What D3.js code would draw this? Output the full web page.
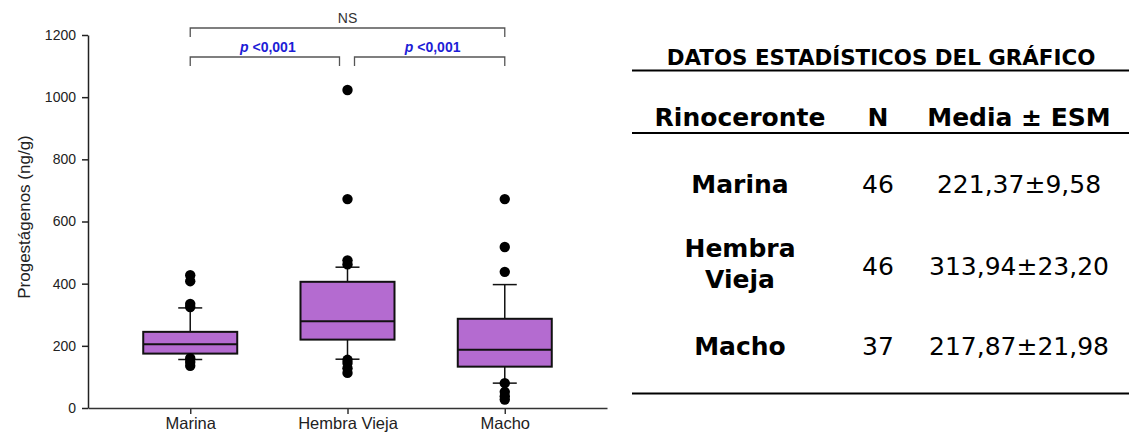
<!DOCTYPE html>
<html>
<head>
<meta charset="utf-8">
<script src="https://cdn.jsdelivr.net/npm/d3@7"></script>
<style>
  body { margin: 0; background: #fff; }
  svg { display: block; }
</style>
</head>
<body>
<svg id="chart" width="1129" height="432"></svg>
<script>
// boxplot data (ng/g)
const groups = ["Marina", "Hembra Vieja", "Macho"];
const q1 = [175, 220, 133];
const median = [205, 279, 187];
const q3 = [245, 406, 287];
const whiskLow = [156, 157, 80];
const whiskHigh = [322, 453, 397];
const outliers = [
  [427, 408, 335, 325, 160, 148, 136],
  [1023, 672, 475, 462, 155, 145, 128, 113],
  [672, 518, 438, 80, 52, 38, 27]
];
const yTicks = [0, 200, 400, 600, 800, 1000, 1200];

// comparisons shown above the boxes
const comparisons = [
  { from: "Marina", to: "Macho", label: "NS", level: 0 },
  { from: "Marina", to: "Hembra Vieja", label: "<0,001", level: 1 },
  { from: "Hembra Vieja", to: "Macho", label: "<0,001", level: 1 }
];

// stats table
const tableHeader = ["Rinoceronte", "N", "Media ± ESM"];
const rowLabels = [["Marina"], ["Hembra", "Vieja"], ["Macho"]];
const rowN = ["46", "46", "37"];
const rowMean = ["221,37±9,58", "313,94±23,20", "217,87±21,98"];

const svg = d3.select("#chart");
const boxFill = "#b46bd0";
const font = "'Liberation Sans', Arial, sans-serif";

const y = d3.scaleLinear().domain([0, 1200]).range([408, 35]);
const x = d3.scalePoint().domain(groups).range([88, 607]).padding(0.65);

// axes
const yAxis = svg.append("g")
  .attr("transform", "translate(88,0)")
  .call(d3.axisLeft(y).tickValues(yTicks).tickFormat(d3.format("d"))
    .tickSize(6).tickSizeOuter(0).tickPadding(6));
yAxis.selectAll("text").style("font", `14px ${font}`).attr("fill", "#222");
yAxis.selectAll("line, path").attr("stroke", "#222").attr("stroke-width", 1.5);

const xAxis = svg.append("g")
  .attr("transform", "translate(0,408)")
  .call(d3.axisBottom(x).tickSize(6).tickSizeOuter(0).tickPadding(3));
xAxis.selectAll("text").style("font", `16.5px ${font}`).attr("fill", "#222");
xAxis.selectAll("line, path").attr("stroke", "#333").attr("stroke-width", 1.5);

svg.append("text")
  .attr("transform", "translate(30,217) rotate(-90)")
  .attr("text-anchor", "middle")
  .style("font", `17px ${font}`)
  .attr("fill", "#222")
  .text("Progestágenos (ng/g)");

// boxes
const boxW = 94, capW = 24;
const box = svg.append("g").selectAll("g")
  .data(groups)
  .join("g")
  .attr("transform", d => `translate(${x(d)},0)`);

box.append("line")
  .attr("y1", (d, i) => y(whiskHigh[i])).attr("y2", (d, i) => y(whiskLow[i]))
  .attr("stroke", "#111").attr("stroke-width", 1.5);
box.append("line")
  .attr("x1", -capW / 2).attr("x2", capW / 2)
  .attr("y1", (d, i) => y(whiskHigh[i])).attr("y2", (d, i) => y(whiskHigh[i]))
  .attr("stroke", "#111").attr("stroke-width", 1.5);
box.append("line")
  .attr("x1", -capW / 2).attr("x2", capW / 2)
  .attr("y1", (d, i) => y(whiskLow[i])).attr("y2", (d, i) => y(whiskLow[i]))
  .attr("stroke", "#111").attr("stroke-width", 1.5);
box.append("rect")
  .attr("x", -boxW / 2).attr("width", boxW)
  .attr("y", (d, i) => y(q3[i]))
  .attr("height", (d, i) => y(q1[i]) - y(q3[i]))
  .attr("fill", boxFill).attr("stroke", "#111").attr("stroke-width", 2);
box.append("line")
  .attr("x1", -boxW / 2).attr("x2", boxW / 2)
  .attr("y1", (d, i) => y(median[i])).attr("y2", (d, i) => y(median[i]))
  .attr("stroke", "#111").attr("stroke-width", 2);
box.selectAll("circle")
  .data((d, i) => outliers[i])
  .join("circle")
  .attr("cy", v => y(v))
  .attr("r", 5.2)
  .attr("fill", "#000");

// significance brackets
const levelY = [28, 57];
const tickH = 9;
comparisons.forEach(c => {
  let x1 = x(c.from), x2 = x(c.to);
  if (c.level === 1) {
    // small gap where two brackets meet
    if (c.to === "Hembra Vieja") x2 -= 8;
    if (c.from === "Hembra Vieja") x1 += 7;
  }
  const by = levelY[c.level];
  svg.append("path")
    .attr("d", `M${x1},${by + tickH}V${by}H${x2}V${by + tickH}`)
    .attr("fill", "none").attr("stroke", "#555").attr("stroke-width", 1.3);
  const t = svg.append("text")
    .attr("x", (x1 + x2) / 2 + (c.level ? 3 : 0))
    .attr("y", by - 5)
    .attr("text-anchor", "middle")
    .style("font-family", font)
    .style("font-size", "14px");
  if (c.level === 0) {
    t.attr("fill", "#333").text(c.label);
  } else {
    t.attr("fill", "#1d1dd6").style("font-weight", "bold");
    t.append("tspan").style("font-style", "italic").text("p");
    t.append("tspan").text(" " + c.label);
  }
});

// table on the right
const tfont = "'DejaVu Sans', Verdana, sans-serif";
const colX = [740, 878, 1019];

svg.append("text")
  .attr("x", 881).attr("y", 65)
  .attr("text-anchor", "middle")
  .style("font", `bold 21.4px ${tfont}`)
  .text("DATOS ESTADÍSTICOS DEL GRÁFICO");

svg.append("line").attr("x1", 632).attr("x2", 1129).attr("y1", 70.5).attr("y2", 70.5)
  .attr("stroke", "#000").attr("stroke-width", 2);

svg.append("g").selectAll("text")
  .data(tableHeader)
  .join("text")
  .attr("x", (d, i) => colX[i]).attr("y", 126)
  .attr("text-anchor", "middle")
  .style("font", `bold 25px ${tfont}`)
  .text(d => d);

svg.append("line").attr("x1", 632).attr("x2", 1129).attr("y1", 133).attr("y2", 133)
  .attr("stroke", "#000").attr("stroke-width", 2);

const rowY = [193, 275, 355];
const rows = svg.append("g").selectAll("g")
  .data(rowLabels)
  .join("g")
  .attr("transform", (d, i) => `translate(0,${rowY[i]})`);

rows.each(function (lines, i) {
  const g = d3.select(this);
  const lh = 31;
  lines.forEach((ln, k) => {
    g.append("text")
      .attr("x", colX[0])
      .attr("y", (k - (lines.length - 1) / 2) * lh - (lines.length > 1 ? 3 : 0))
      .attr("text-anchor", "middle")
      .style("font", `bold 25px ${tfont}`)
      .text(ln);
  });
  g.append("text").attr("x", colX[1]).attr("text-anchor", "middle")
    .style("font", `25px ${tfont}`).text(rowN[i]);
  g.append("text").attr("x", colX[2]).attr("text-anchor", "middle")
    .style("font", `25px ${tfont}`).text(rowMean[i]);
});

svg.append("line").attr("x1", 632).attr("x2", 1129).attr("y1", 393.5).attr("y2", 393.5)
  .attr("stroke", "#000").attr("stroke-width", 2);
</script>
</body>
</html>
